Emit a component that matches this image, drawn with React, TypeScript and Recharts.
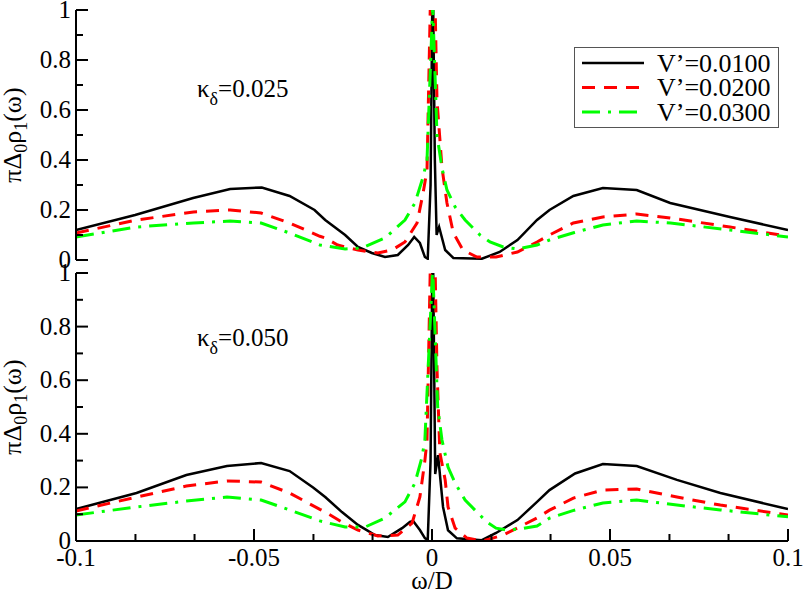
import { LineChart, Line, XAxis, YAxis, Legend } from "recharts"

const FONT = '"Liberation Serif", "Times New Roman", Tinos, serif'

const X_TICKS = [-0.1, -0.0833, -0.0667, -0.05, -0.0333, -0.0167, 0, 0.0167, 0.0333, 0.05, 0.0667, 0.0833, 0.1]
const X_MAJOR = [-0.1, -0.05, 0, 0.05, 0.1]
const X_LABELS = ["-0.1", "-0.05", "0", "0.05", "0.1"]
const Y_TICKS = [0, 0.1, 0.2, 0.3, 0.4, 0.5, 0.6, 0.7, 0.8, 0.9, 1]
const Y_MAJOR = [0, 0.2, 0.4, 0.6, 0.8, 1]
const Y_LABELS = ["0", "0.2", "0.4", "0.6", "0.8", "1"]

const SERIES_NAMES = ["V\u2019=0.0100", "V\u2019=0.0200", "V\u2019=0.0300"]
const SERIES_COLORS = ["#000000", "#ff0000", "#00ff00"]
const SERIES_DASH = ["", "13 9", "18 8 3 8"]
const SERIES_WIDTH = [2.5, 3, 3]

// top panel, kappa = 0.025
const TOP_W1 = [-0.1, -0.0834, -0.0671, -0.0567, -0.0478, -0.04, -0.033, -0.03, -0.0244, -0.0208, -0.0169, -0.0132, -0.0096, -0.0067, -0.005, -0.0034, -0.002, -0.0012, -0.0004, 0.0002, 0.0008, 0.0013, 0.002, 0.0037, 0.006, 0.014, 0.019, 0.024, 0.0295, 0.033, 0.0397, 0.048, 0.0575, 0.0669, 0.0837, 0.1]
const TOP_V1 = [0.12, 0.18, 0.248, 0.284, 0.29, 0.256, 0.2, 0.16, 0.1, 0.052, 0.028, 0.012, 0.02, 0.06, 0.092, 0.068, 0.012, 0.005, 0.3, 1.2, 0.4, 0.1, 0.132, 0.04, 0.008, 0.005, 0.032, 0.08, 0.16, 0.2, 0.256, 0.288, 0.28, 0.228, 0.172, 0.12]
const TOP_W2 = [-0.1, -0.083, -0.067, -0.0567, -0.048, -0.04, -0.0315, -0.03, -0.0265, -0.0208, -0.0152, -0.0112, -0.0076, -0.0042, -0.0025, -0.0014, 0.0002, 0.0014, 0.0028, 0.0042, 0.006, 0.0087, 0.0126, 0.018, 0.024, 0.0295, 0.033, 0.0397, 0.048, 0.0575, 0.0669, 0.0837, 0.1]
const TOP_V2 = [0.108, 0.16, 0.192, 0.2, 0.188, 0.148, 0.095, 0.088, 0.06, 0.04, 0.028, 0.04, 0.072, 0.148, 0.268, 0.36, 1.5, 0.64, 0.37, 0.228, 0.108, 0.04, 0.012, 0.012, 0.032, 0.072, 0.1, 0.148, 0.172, 0.184, 0.168, 0.132, 0.095]
const TOP_W3 = [-0.1, -0.083, -0.067, -0.0567, -0.048, -0.04, -0.0315, -0.0244, -0.0197, -0.0132, -0.0076, -0.0048, -0.0025, -0.0014, 0.0002, 0.0014, 0.0028, 0.0042, 0.0065, 0.0093, 0.0135, 0.0163, 0.02, 0.024, 0.0295, 0.033, 0.04, 0.048, 0.0575, 0.067, 0.0837, 0.1]
const TOP_V3 = [0.092, 0.132, 0.148, 0.156, 0.148, 0.108, 0.06, 0.044, 0.048, 0.088, 0.16, 0.228, 0.332, 0.4, 1.02, 0.5, 0.368, 0.28, 0.212, 0.16, 0.1, 0.072, 0.052, 0.044, 0.06, 0.08, 0.11, 0.14, 0.156, 0.148, 0.12, 0.092]

// bottom panel, kappa = 0.050
const BOT_W1 = [-0.1, -0.083, -0.069, -0.0576, -0.048, -0.04, -0.0334, -0.03, -0.0253, -0.0208, -0.016, -0.0124, -0.0084, -0.0062, -0.0053, -0.0034, -0.002, -0.0012, -0.0004, 0.0002, 0.0009, 0.0017, 0.0031, 0.0045, 0.007, 0.014, 0.018, 0.024, 0.0295, 0.033, 0.0402, 0.048, 0.0575, 0.0688, 0.081, 0.1]
const BOT_V1 = [0.119, 0.179, 0.246, 0.28, 0.291, 0.261, 0.2, 0.164, 0.108, 0.06, 0.022, 0.015, 0.048, 0.071, 0.075, 0.041, 0.011, 0.004, 0.3, 1.2, 0.25, 0.32, 0.127, 0.04, 0.01, 0.003, 0.03, 0.078, 0.146, 0.19, 0.252, 0.287, 0.28, 0.228, 0.179, 0.119]
const BOT_W2 = [-0.1, -0.083, -0.069, -0.0576, -0.048, -0.04, -0.0315, -0.03, -0.0253, -0.0208, -0.0152, -0.0096, -0.0056, -0.0034, -0.002, -0.0014, 0.0002, 0.0014, 0.0022, 0.0037, 0.0045, 0.0065, 0.0098, 0.0143, 0.02, 0.0295, 0.033, 0.0397, 0.048, 0.0575, 0.0688, 0.081, 0.1]
const BOT_V2 = [0.112, 0.164, 0.205, 0.224, 0.22, 0.179, 0.118, 0.108, 0.071, 0.041, 0.019, 0.022, 0.067, 0.164, 0.3, 0.377, 1.5, 0.645, 0.33, 0.228, 0.127, 0.048, 0.011, 0.0, 0.022, 0.086, 0.115, 0.16, 0.19, 0.194, 0.164, 0.134, 0.097]
const BOT_W3 = [-0.1, -0.083, -0.069, -0.0576, -0.048, -0.04, -0.0315, -0.0244, -0.0188, -0.0132, -0.0076, -0.0048, -0.0028, -0.002, 0.0002, 0.0016, 0.0028, 0.0045, 0.0065, 0.0093, 0.0126, 0.0154, 0.018, 0.021, 0.0247, 0.0295, 0.033, 0.04, 0.048, 0.0575, 0.0688, 0.081, 0.1]
const BOT_V3 = [0.097, 0.127, 0.149, 0.164, 0.153, 0.116, 0.075, 0.052, 0.052, 0.086, 0.146, 0.216, 0.313, 0.377, 1.02, 0.5, 0.377, 0.276, 0.216, 0.153, 0.108, 0.071, 0.048, 0.041, 0.045, 0.056, 0.085, 0.115, 0.142, 0.153, 0.134, 0.116, 0.09]

const zip = (w: number[], v: number[]) => w.map((x, i) => ({ w: x, v: v[i] }))

const majorIndex = (value: number, majors: number[]) => majors.findIndex((m) => Math.abs(m - value) < 1e-6)

const textStyle = { fontFamily: FONT }

function XTick(props: any) {
  const { x, y, payload, dir, showLabel } = props
  const i = majorIndex(payload.value, X_MAJOR)
  const len = i >= 0 ? 12 : 7
  return (
    <g>
      <line x1={x} x2={x} y1={y} y2={y + dir * len} stroke="#000" strokeWidth={2} />
      {showLabel && i >= 0 && (
        <text x={x} y={y + 25} textAnchor="middle" style={textStyle} fontSize={25} fill="#000">
          {X_LABELS[i]}
        </text>
      )}
    </g>
  )
}

function YTick(props: any) {
  const { x, y, payload, dir, showLabel } = props
  const i = majorIndex(payload.value, Y_MAJOR)
  const len = i >= 0 ? 12 : 7
  return (
    <g>
      <line x1={x} x2={x + dir * len} y1={y} y2={y} stroke="#000" strokeWidth={2} />
      {showLabel && i >= 0 && (
        <text x={x - 5} y={y + 8} textAnchor="end" style={textStyle} fontSize={25} fill="#000">
          {Y_LABELS[i]}
        </text>
      )}
    </g>
  )
}

function LegendBox() {
  return (
    <svg width={205} height={81} style={{ display: "block" }}>
      <rect x={0.5} y={0.5} width={204} height={80} fill="#fff" stroke="#555" strokeWidth={1} />
      {SERIES_NAMES.map((name, i) => (
        <g key={name}>
          <line x1={8} x2={70} y1={16 + i * 24.5} y2={16 + i * 24.5} stroke={SERIES_COLORS[i]} strokeWidth={SERIES_WIDTH[i]} strokeDasharray={SERIES_DASH[i] || undefined} />
          <text x={83} y={25 + i * 24.3} style={textStyle} fontSize={26} fill="#000">
            {name}
          </text>
        </g>
      ))}
    </svg>
  )
}

const axisLine = { stroke: "#000", strokeWidth: 2 }

function Panel({ top, height, bottomMargin, xHeight, data, showX, legend }: any) {
  return (
    <div style={{ position: "absolute", left: 0, top }}>
      <LineChart width={806} height={height} margin={{ top: 10, right: 18, bottom: bottomMargin, left: 0 }}>
        <XAxis
          xAxisId="b"
          type="number"
          dataKey="w"
          domain={[-0.1, 0.1]}
          allowDataOverflow
          ticks={X_TICKS}
          interval={0}
          height={xHeight}
          tickSize={0}
          tickMargin={0}
          tickLine={false}
          axisLine={axisLine}
          tick={(p: any) => <XTick {...p} dir={-1} showLabel={showX} />}
        />
        <XAxis
          xAxisId="t"
          orientation="top"
          type="number"
          dataKey="w"
          domain={[-0.1, 0.1]}
          allowDataOverflow
          ticks={X_TICKS}
          interval={0}
          height={0}
          tickSize={0}
          tickMargin={0}
          tickLine={false}
          axisLine={axisLine}
          tick={(p: any) => <XTick {...p} dir={1} showLabel={false} />}
        />
        <YAxis
          yAxisId="l"
          type="number"
          domain={[0, 1]}
          allowDataOverflow
          ticks={Y_TICKS}
          interval={0}
          width={76}
          tickSize={0}
          tickMargin={0}
          tickLine={false}
          axisLine={axisLine}
          tick={(p: any) => <YTick {...p} dir={1} showLabel />}
        />
        <YAxis
          yAxisId="r"
          orientation="right"
          type="number"
          domain={[0, 1]}
          allowDataOverflow
          ticks={Y_TICKS}
          interval={0}
          width={0}
          tickSize={0}
          tickMargin={0}
          tickLine={false}
          axisLine={axisLine}
          tick={(p: any) => <YTick {...p} dir={-1} showLabel={false} />}
        />
        {legend && (
          <Legend
            layout="horizontal"
            verticalAlign="middle"
            content={() => <LegendBox />}
            wrapperStyle={{ position: "absolute", left: 574, top: 47, width: 205, height: 81 }}
          />
        )}
        {data.map((d: any, i: number) => (
          <Line
            key={SERIES_NAMES[i]}
            xAxisId="b"
            yAxisId="l"
            data={d}
            dataKey="v"
            name={SERIES_NAMES[i]}
            type="linear"
            stroke={SERIES_COLORS[i]}
            strokeWidth={SERIES_WIDTH[i]}
            strokeDasharray={SERIES_DASH[i] || undefined}
            dot={false}
            activeDot={false}
            isAnimationActive={false}
          />
        ))}
      </LineChart>
    </div>
  )
}

function YTitle({ cy }: { cy: number }) {
  return (
    <text x={21} y={cy} transform={`rotate(-90 21 ${cy})`} textAnchor="middle" style={textStyle} fontSize={26} fill="#000">
      πΔ<tspan dy={6} fontSize={18}>0</tspan>
      <tspan dy={-6}>ρ</tspan>
      <tspan dy={6} fontSize={18}>1</tspan>
      <tspan dy={-6}>(ω)</tspan>
    </text>
  )
}

function Kappa({ y, value }: { y: number; value: string }) {
  return (
    <text x={197} y={y} style={textStyle} fontSize={25} fill="#000">
      κ<tspan dy={8} fontSize={18}>δ</tspan>
      <tspan dy={-8}>={value}</tspan>
    </text>
  )
}

export default function App() {
  const topData = [zip(TOP_W1, TOP_V1), zip(TOP_W2, TOP_V2), zip(TOP_W3, TOP_V3)]
  const botData = [zip(BOT_W1, BOT_V1), zip(BOT_W2, BOT_V2), zip(BOT_W3, BOT_V3)]

  return (
    <div style={{ position: "absolute", left: 0, top: 0, width: 806, height: 593, background: "#fff", fontFamily: FONT }}>
      <Panel top={0} height={285} bottomMargin={25} xHeight={0} data={topData} showX={false} legend />
      <Panel top={263} height={330} bottomMargin={0} xHeight={52} data={botData} showX legend={false} />
      <svg width={806} height={593} style={{ position: "absolute", left: 0, top: 0, pointerEvents: "none" }}>
        <YTitle cy={135} />
        <YTitle cy={407} />
        <Kappa y={97} value="0.025" />
        <Kappa y={346} value="0.050" />
        <text x={432} y={589} textAnchor="middle" style={textStyle} fontSize={25} fill="#000">
          ω/D
        </text>
      </svg>
    </div>
  )
}
